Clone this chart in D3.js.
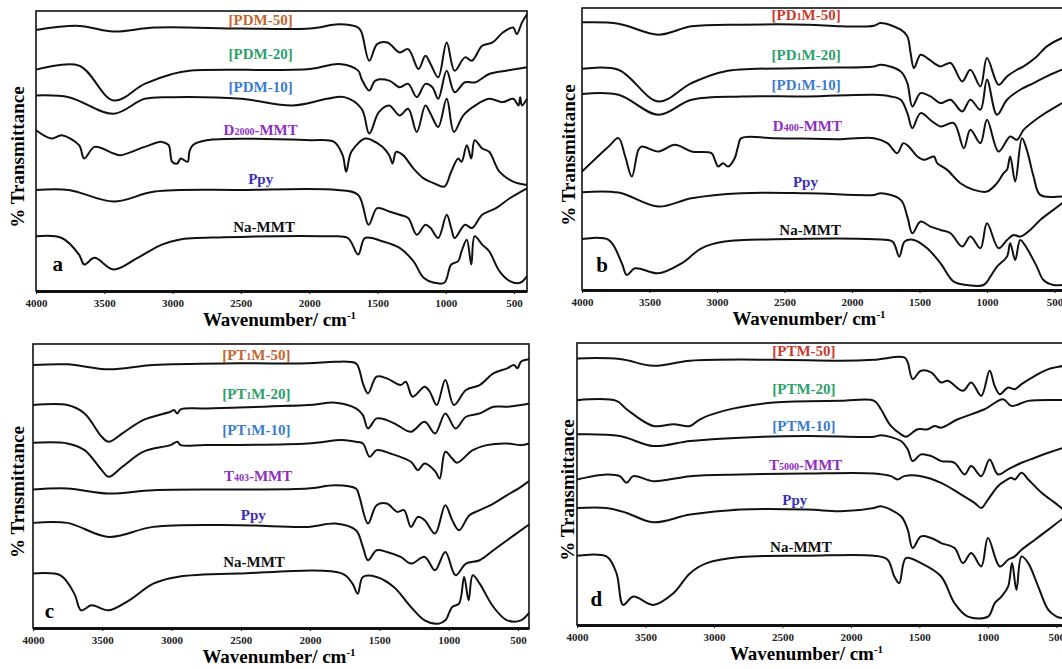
<!DOCTYPE html>
<html>
<head>
<meta charset="utf-8">
<script src="https://cdn.jsdelivr.net/npm/d3@7"></script>
<style>
body { margin: 0; background: #fff; }
svg { display: block; font-family: "Liberation Serif", "DejaVu Serif", serif; }
</style>
</head>
<body>
<svg width="1062" height="669"></svg>
<script>
const xTicks = [4000, 3500, 3000, 2500, 2000, 1500, 1000, 500];

// ---- panel a : [wavenumber, %T offset]
const aPDM50 = [[4000,78.8],[3685,80],[3432,78.3],[3130,79.5],[2499,79.2],[1994,79.2],[1780,80.5],[1641,79.5],[1616,78],[1560,69.5],[1502,74.5],[1427,75],[1338,72],[1275,73],[1199,67],[1149,71],[1111,68.5],[1055,64.5],[993,75],[935,66.5],[859,70.5],[808,69.5],[733,74],[657,75],[582,78],[506,79.5],[480,77.5],[442,81],[405,83.5]];
const aPDM20 = [[4000,66.8],[3685,68],[3432,57.5],[3205,62.5],[3003,65.5],[2877,66.5],[1994,67],[1780,68.5],[1641,66.5],[1616,64],[1560,60.5],[1515,63.5],[1414,63.5],[1338,61.5],[1275,62.5],[1212,58.5],[1149,62.5],[1098,61.5],[1055,58],[993,66.5],[935,60],[859,63],[783,63],[682,65.5],[556,66.5],[405,67.5]];
const aPDM10 = [[4000,59],[3760,58.5],[3432,53.5],[3205,58],[3003,58.5],[2499,58],[2120,56],[1868,58],[1742,58.5],[1616,55],[1560,47.5],[1490,54],[1414,56],[1338,53],[1275,55],[1212,48],[1149,56],[1111,53.5],[1055,49.5],[993,58],[940,48],[871,53],[783,56],[682,58],[582,57],[506,58],[467,56],[455,58.5],[442,56],[405,58]];
const aD2000 = [[4000,48.5],[3886,46],[3811,47],[3685,44],[3647,40],[3571,43.5],[3432,41.5],[3382,41],[3205,43.5],[3079,45],[3029,44],[3003,39],[2966,38.5],[2940,40],[2890,39],[2877,42],[2852,44],[2751,45.5],[1994,45.5],[1818,45],[1755,41],[1729,36],[1691,42],[1591,46],[1540,45.5],[1464,43.5],[1414,41],[1389,38.5],[1363,42],[1313,41],[1237,37],[1162,34],[1086,32.5],[1010,31.5],[960,36],[909,40],[884,39],[846,44],[813,40],[788,45.5],[733,43],[682,42],[607,36],[506,33],[405,32]];
const aPpy = [[4000,30.5],[3760,30.5],[3432,27],[3130,30],[2499,30.5],[1793,30.5],[1641,29],[1565,20],[1502,25],[1414,24],[1338,23],[1275,22],[1212,17],[1149,20],[1111,19],[1055,16],[993,23],[960,19],[935,16],[859,20],[808,19],[733,23],[632,25],[531,28],[405,31]];
const aNaMMT = [[4000,16.5],[3811,16],[3685,11],[3647,8],[3571,10],[3432,6.5],[3256,10],[3079,14],[2953,15.5],[2625,16.2],[1868,16.5],[1717,16],[1641,11],[1591,16],[1464,15],[1338,13],[1237,9],[1162,4],[1086,2.5],[1010,2.5],[960,8],[909,9],[884,12],[846,15.5],[813,8],[788,16.5],[733,14],[682,12],[607,6],[531,3],[455,2.5],[405,4.5]];

// ---- panel b
const bPD1M50 = [[4000,80.2],[3730,79.8],[3434,76.5],[3189,79],[2820,79.5],[2328,79.5],[2082,79],[1836,79.2],[1787,80],[1639,78],[1590,76],[1566,71],[1541,66.5],[1492,70.5],[1443,69.5],[1393,68],[1344,67],[1270,68],[1184,62.5],[1123,66],[1049,61],[1000,69.5],[914,61.5],[852,64],[778,66],[729,67],[631,70],[557,73],[444,75.5],[400,76]];
const bPD1M20 = [[4000,66.3],[3730,66],[3434,56.5],[3189,62],[2943,65.5],[2328,66.5],[1836,67],[1787,67.5],[1639,65.5],[1590,62],[1553,55],[1492,59],[1418,58],[1344,56],[1270,57],[1184,53.5],[1123,57],[1049,54],[1000,63],[926,52.5],[852,57],[754,60],[655,62],[557,64],[444,66],[400,66.5]];
const bPD1M10 = [[4000,58.7],[3730,58.5],[3434,52.5],[3189,57],[2820,58],[2328,58],[1836,58.5],[1713,58],[1639,57],[1590,53],[1553,48.5],[1492,53],[1406,50.5],[1344,49],[1246,50],[1172,42.5],[1123,48],[1049,44],[1000,51],[914,41.5],[828,46],[778,45],[729,48],[606,52],[444,56],[400,57]];
const bD400 = [[4000,35.5],[3803,43],[3730,45.5],[3680,40],[3631,34],[3582,42],[3557,43],[3434,41.5],[3311,43.5],[3189,41.5],[3041,41],[3016,39],[2992,37],[2955,38],[2918,37],[2869,39.5],[2844,43],[2820,45.5],[2574,45.5],[2082,45.2],[1836,45.5],[1738,44],[1665,41],[1620,44],[1580,43],[1516,40],[1467,39],[1393,40],[1369,38],[1295,36],[1197,32],[1098,30],[1000,29.5],[926,32],[877,35],[852,36],[828,40],[791,32.5],[741,45.5],[705,42],[655,34],[606,28.5],[444,28],[400,28]];
const bPpy = [[4000,29.3],[3730,29.2],[3434,25],[3189,27.5],[2820,29],[2328,29],[1836,28.5],[1787,29],[1639,27],[1590,22],[1553,17],[1492,20.5],[1418,19],[1344,18],[1270,17],[1184,13],[1123,16],[1049,12.5],[1000,20],[914,12.5],[852,15],[803,16.5],[754,16],[680,18],[606,21],[508,24],[444,26],[400,27.5]];
const bNaMMT = [[4000,15.3],[3803,15],[3705,8],[3668,4.5],[3607,6.5],[3434,5],[3262,8],[3115,12.5],[2943,14.5],[2574,15.2],[1836,15.2],[1700,14.5],[1650,10],[1610,14.5],[1541,15],[1443,12.5],[1344,8],[1246,2.5],[1148,1.5],[1025,1.5],[975,4],[926,7],[852,10],[828,14],[791,9],[754,15],[705,12.5],[631,7],[582,3],[508,1.5],[444,1.5],[400,2]];

// ---- panel c
const cPT1M50 = [[4000,78.8],[3752,79],[3454,77.5],[3132,78.8],[2512,79.3],[2016,79.3],[1818,79.8],[1669,79.3],[1644,77.3],[1619,73.3],[1582,70.3],[1520,75.3],[1446,74.8],[1346,72.8],[1309,73.8],[1260,69.3],[1173,72.3],[1136,70.8],[1086,66.8],[1024,74.3],[962,66.8],[875,71.3],[776,72.8],[677,76.3],[578,77.8],[528,78.8],[503,77.8],[478,79.8],[420,80.5]];
const cPT1M20 = [[4000,66.8],[3752,66.8],[3628,64.3],[3504,57.3],[3454,55.8],[3355,58.3],[3206,62.3],[3008,64.8],[2983,65.3],[2958,64.3],[2934,65.5],[2760,65.8],[2016,66.8],[1818,67.5],[1669,65.8],[1619,63.8],[1582,59.8],[1520,62.8],[1446,62.3],[1371,60.8],[1272,58.8],[1173,61.8],[1098,58.3],[1024,64.3],[950,59.8],[875,63.3],[776,64.3],[677,66.3],[578,66.3],[478,66.8],[420,67.3]];
const cPT1M10 = [[4000,55.5],[3752,55.3],[3628,53.3],[3504,47.3],[3454,45.3],[3355,48.3],[3206,52.8],[3008,54.8],[2958,55.8],[2934,54.8],[2760,54.8],[2016,55.3],[1768,56.3],[1669,55.8],[1619,55.3],[1570,51.3],[1520,53.3],[1421,52.3],[1272,49.8],[1222,47.3],[1173,49.3],[1098,47],[1065,44.8],[1024,52.8],[974,50.8],[940,49.5],[826,53.3],[726,54.8],[578,55.3],[478,54.8],[420,55.3]];
const cT403 = [[4000,41.5],[3752,41.8],[3454,40.3],[3132,41.3],[2512,41.5],[2016,41.8],[1818,42.8],[1669,41.8],[1644,39.3],[1582,31.3],[1520,36.8],[1446,37.3],[1371,34.8],[1322,35.3],[1272,30.3],[1222,33.3],[1173,32.3],[1098,28.3],[1024,36.8],[974,32.3],[925,29.3],[850,33.8],[776,35.3],[677,37.3],[578,39.8],[478,42.3],[420,44]];
const cPpy = [[4000,31.5],[3752,31.5],[3454,27.3],[3132,30.3],[2512,30.8],[2016,30.3],[1818,31.3],[1669,29.3],[1619,24.3],[1582,20.3],[1520,23.3],[1446,22.8],[1346,21.3],[1272,19.3],[1173,21.3],[1098,17.3],[1024,22.8],[950,15.8],[875,19.3],[776,20.3],[677,23.3],[578,26.3],[420,31]];
const cNaMMT = [[4000,16.3],[3802,15.8],[3702,10.3],[3653,5.3],[3578,6.8],[3454,5.3],[3306,8.3],[3132,13.3],[2958,15.3],[2512,16.3],[1768,16.3],[1694,13.3],[1656,10.3],[1619,15.3],[1520,15.3],[1396,12.3],[1272,6.3],[1173,2.3],[1074,1.3],[1024,2.3],[974,6.3],[925,7.3],[888,15.3],[856,8.3],[826,15.8],[776,13.3],[677,6.3],[578,2.3],[478,2.3],[420,4.5]];

// ---- panel d
const dPTM50 = [[4000,79.7],[3687,79.5],[3443,77.5],[3174,79],[2563,79.3],[2074,79],[1830,79.3],[1610,80],[1585,78.5],[1549,73.5],[1488,76],[1414,75.5],[1341,72.5],[1292,73],[1182,70],[1121,72.5],[1048,68.5],[987,76],[950,71.5],[913,69],[852,71],[803,70.5],[754,72],[656,74.5],[558,76.5],[446,77.5],[400,78]];
const dPTM20 = [[4000,67.2],[3712,67],[3638,64.5],[3443,59.5],[3296,60],[3174,59.5],[3101,61.5],[2930,64],[2563,66.5],[2074,67],[1830,67],[1781,64.5],[1708,59.5],[1634,57],[1598,56.3],[1512,58.5],[1439,58.5],[1390,59.5],[1341,59],[1219,61.5],[1024,64.5],[889,67.5],[828,65.5],[705,67],[446,67.3],[400,67.5]];
const dPTM10 = [[4000,57],[3687,56.5],[3443,53.5],[3174,55],[2807,56],[2318,56.5],[1830,56.3],[1781,56.7],[1634,55],[1585,52.5],[1549,49],[1488,51],[1414,50.5],[1341,49],[1243,48.5],[1170,45],[1121,47.5],[1048,44.5],[987,49.5],[926,45],[852,46.5],[754,48.5],[656,50],[558,51.5],[446,53],[400,53.5]];
const dT5000 = [[4000,43.5],[3785,45],[3687,44.5],[3638,42.5],[3589,44.5],[3443,43],[3174,44.5],[2807,45],[2318,45.3],[1830,45.3],[1708,44.5],[1659,43.5],[1610,44.5],[1488,44.5],[1341,42.5],[1194,39],[1097,36.5],[1048,35],[999,37.5],[926,41.5],[877,43],[828,44],[803,43.5],[754,45.5],[705,43.5],[607,39.5],[510,36.5],[446,34.5],[400,33.5]];
const dPpy = [[4000,35],[3785,35],[3638,33.5],[3443,30.7],[3174,33],[2807,34.5],[2318,34.5],[2074,34],[1830,35],[1781,35.5],[1634,32.5],[1585,28.5],[1549,23],[1488,26.5],[1414,26],[1341,24.5],[1243,23],[1182,18.5],[1121,21.5],[1048,17.5],[999,26],[913,17.5],[852,19.5],[803,20.5],[754,22.5],[656,25.5],[558,28.5],[446,32],[400,33]];
const dNaMMT = [[4000,20.7],[3785,20.5],[3712,15.5],[3663,6],[3589,8.5],[3443,6],[3296,9.5],[3174,15.5],[3052,18.5],[2807,20.3],[2318,20.7],[1830,20.7],[1732,19.5],[1683,14.5],[1647,12.5],[1598,20],[1488,18.5],[1341,14.5],[1243,6.5],[1145,2.5],[999,2.5],[950,6.5],[901,8.5],[852,11.5],[823,18.5],[791,10.5],[754,20.5],[705,18.5],[632,11.5],[558,4.5],[498,2.5],[446,2],[400,2]];

// ---- sample names ({} = small digits), label anchors [wavenumber, %T], colours
const aNames = ["[PDM-50]", "[PDM-20]", "[PDM-10]", "D{2000}-MMT", "Ppy", "Na-MMT"];
const bNames = ["[PD{1}M-50]", "[PD{1}M-20]", "[PD{1}M-10]", "D{400}-MMT", "Ppy", "Na-MMT"];
const cNames = ["[PT{1}M-50]", "[PT{1}M-20]", "[PT{1}M-10]", "T{403}-MMT", "Ppy", "Na-MMT"];
const dNames = ["[PTM-50]", "[PTM-20]", "[PTM-10]", "T{5000}-MMT", "Ppy", "Na-MMT"];
const aLabelAt = [[2355,82],[2355,71.7],[2355,61.5],[2355,48.8],[2355,34],[2330,19.5]];
const bLabelAt = [[2340,82.5],[2340,70.5],[2340,61.5],[2330,49.2],[2345,32.5],[2310,18.2]];
const cLabelAt = [[2388,81.8],[2388,70.3],[2388,59.3],[2375,45.5],[2410,34],[2405,20]];
const dLabelAt = [[2343,82],[2343,70.5],[2343,59.7],[2330,48],[2410,37.3],[2365,23.5]];
const colorsA = ["#c4642e", "#2c9f6c", "#3a7ccc", "#8e2fc0", "#3b2fb6", "#111"];
const colorsB = ["#cc3a2c", "#2c9f6c", "#3a7ccc", "#8e2fc0", "#3b2fb6", "#111"];

const svg = d3.select("svg");

const panels = [
    {tag: "a", xr: [36, 527], xd: [4000, 405], yr: [291, 11], yd: [0, 84.5], tagAt: [3841, 8.3],
     traces: [aPDM50, aPDM20, aPDM10, aD2000, aPpy, aNaMMT], names: aNames, labelAt: aLabelAt, colors: colorsA,
     ytitle: "% Transmittance", ytx: 17},
    {tag: "b", xr: [582, 1068], xd: [4000, 400], yr: [290, 8], yd: [0, 84.5], tagAt: [3852, 7.5],
     traces: [bPD1M50, bPD1M20, bPD1M10, bD400, bPpy, bNaMMT], names: bNames, labelAt: bLabelAt, colors: colorsB,
     ytitle: "% Transmittance", ytx: 568},
    {tag: "c", xr: [33, 529], xd: [4000, 420], yr: [628, 344], yd: [0, 85.1], tagAt: [3881, 5.3],
     traces: [cPT1M50, cPT1M20, cPT1M10, cT403, cPpy, cNaMMT], names: cNames, labelAt: cLabelAt, colors: colorsA,
     ytitle: "% Trnsmittance", ytx: 17},
    {tag: "d", xr: [577, 1070], xd: [4000, 400], yr: [625, 343], yd: [0, 84.3], tagAt: [3858, 8],
     traces: [dPTM50, dPTM20, dPTM10, dT5000, dPpy, dNaMMT], names: dNames, labelAt: dLabelAt, colors: colorsB,
     ytitle: "% Transmittance", ytx: 567}
];

panels.forEach(drawPanel);

function drawPanel(p) {
    const x = d3.scaleLinear().domain(p.xd).range(p.xr);
    const y = d3.scaleLinear().domain(p.yd).range(p.yr);
    const g = svg.append("g");

    // frame
    g.append("rect")
        .attr("x", p.xr[0]).attr("y", p.yr[1])
        .attr("width", p.xr[1] - p.xr[0]).attr("height", p.yr[0] - p.yr[1])
        .attr("fill", "none").attr("stroke", "#111").attr("stroke-width", 1.6);

    // bottom axis
    const ax = g.append("g")
        .attr("transform", `translate(0,${p.yr[0]})`)
        .call(d3.axisBottom(x).tickValues(xTicks).tickFormat(d3.format("d")).tickSize(3).tickSizeOuter(0));
    ax.select(".domain").attr("stroke", "#111").attr("stroke-width", 3);
    ax.selectAll(".tick line").attr("stroke", "#111");
    ax.selectAll(".tick text")
        .attr("dy", "0.95em")
        .style("font-family", "'Liberation Serif', serif")
        .style("font-weight", "bold").style("font-size", "11px").attr("fill", "#222");

    // spectra
    const line = d3.line()
        .x(d => x(d[0]))
        .y(d => y(d[1]))
        .curve(d3.curveCatmullRom.alpha(0.5));

    g.append("g")
        .selectAll("path")
        .data(p.traces)
        .enter().append("path")
        .attr("d", line)
        .attr("fill", "none")
        .attr("stroke", "#111")
        .attr("stroke-width", 2)
        .attr("stroke-linejoin", "round");

    // sample names
    p.names.forEach((name, i) => {
        const t = g.append("text")
            .attr("x", x(p.labelAt[i][0]))
            .attr("y", y(p.labelAt[i][1]))
            .attr("dy", "0.35em")
            .attr("text-anchor", "middle")
            .attr("fill", p.colors[i])
            .style("font-weight", "bold")
            .style("font-size", "15px");
        name.split(/[{}]/).forEach((part, k) => {
            if (!part) return;
            t.append("tspan").text(part).style("font-size", k % 2 ? "10px" : "15px");
        });
    });

    // panel letter
    g.append("text")
        .attr("x", x(p.tagAt[0])).attr("y", y(p.tagAt[1]))
        .attr("dy", "0.35em").attr("text-anchor", "middle")
        .style("font-weight", "bold").style("font-size", "21px")
        .text(p.tag);

    // axis titles
    const xt = g.append("text")
        .attr("x", (p.xr[0] + Math.min(p.xr[1], 1040)) / 2 - 2)
        .attr("y", p.yr[0] + 35)
        .attr("text-anchor", "middle")
        .style("font-weight", "bold").style("font-size", "19px");
    xt.append("tspan").text("Wavenumber/ cm");
    xt.append("tspan").text("-1").attr("dy", "-0.6em").style("font-size", "11px");

    const cy = (p.yr[0] + p.yr[1]) / 2 + 6;
    g.append("text")
        .attr("transform", `translate(${p.ytx},${cy}) rotate(-90)`)
        .attr("text-anchor", "middle")
        .attr("dy", "0.35em")
        .style("font-weight", "bold").style("font-size", "19px")
        .text(p.ytitle);
}
</script>
</body>
</html>
